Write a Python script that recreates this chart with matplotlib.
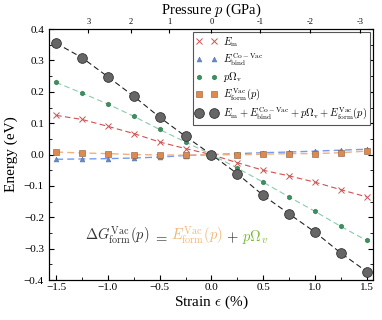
import matplotlib
matplotlib.use('Agg')
import matplotlib.pyplot as plt
from matplotlib.offsetbox import TextArea, HPacker, AnchoredOffsetbox
from matplotlib.ticker import MultipleLocator

plt.rcParams['font.family'] = ['Liberation Serif', 'DejaVu Serif']
plt.rcParams['mathtext.fontset'] = 'cm'

# strain (%)
strain = [-1.5, -1.25, -1.0, -0.75, -0.5, -0.25, 0.0, 0.25, 0.5, 0.75, 1.0, 1.25, 1.5]
e_m = [0.125, 0.112, 0.090, 0.067, 0.040, 0.019, 0.0, -0.026, -0.050, -0.068, -0.088, -0.112, -0.135]
e_bind = [-0.015, -0.014, -0.013, -0.011, -0.008, -0.003, 0.0, 0.003, 0.006, 0.008, 0.011, 0.014, 0.017]
p_omega = [0.230, 0.196, 0.161, 0.122, 0.080, 0.040, 0.0, -0.043, -0.088, -0.135, -0.181, -0.229, -0.274]
e_form = [0.008, 0.005, 0.003, 0.0, -0.001, -0.002, 0.0, -0.001, 0.001, 0.003, 0.003, 0.006, 0.011]
e_total = [0.355, 0.309, 0.248, 0.186, 0.119, 0.058, 0.0, -0.061, -0.130, -0.189, -0.247, -0.314, -0.373]

# top axis: pressure (GPa) and the strain where each tick sits
pressure_labels = ['3', '2', '1', '0', '-1', '-2', '-3']
pressure_strain = [-1.19, -0.78, -0.405, 0.0, 0.467, 0.95, 1.44]

fig = plt.figure(figsize=(3.82, 3.2), dpi=100)
ax = fig.add_axes([0.128, 0.125, 0.848, 0.784])

ax.plot(strain, e_m, ls=(0, (5, 3)), color='#d05050', lw=0.8)
ax.plot(strain, e_bind, ls=(0, (5, 3)), color='#7799ee', lw=1.0)
ax.plot(strain, p_omega, ls=(0, (5, 3)), color='#88ccaa', lw=0.8)
ax.plot(strain, e_form, ls=(0, (5, 3)), color='#f0b080', lw=1.0)
ax.plot(strain, e_total, ls=(0, (5, 3)), color='#222222', lw=0.8)

ax.plot(strain, e_m, ls='none', marker='x', ms=4, mew=0.7, color='#cc5555',
        label=r'$E_\mathrm{m}$')
ax.plot(strain, e_bind, ls='none', marker='^', ms=3.5, color='#6688cc', mec='#5577aa', mew=0.4,
        label=r'$E_\mathrm{bind}^\mathrm{Co-Vac}$')
ax.plot(strain, p_omega, ls='none', marker='h', ms=3.5, color='#3d8f5f', mec='#2e7a4e', mew=0.4,
        label=r'$p\Omega_\mathrm{v}$')
ax.plot(strain, e_form, ls='none', marker='s', ms=4.2, color='#dd8a50', mec='#8a5a3a', mew=0.4,
        label=r'$E_\mathrm{form}^\mathrm{Vac}(p)$')
ax.plot(strain, e_total, ls='none', marker='o', ms=7, color='#666666', mec='#333333', mew=0.6,
        label=r'$E_\mathrm{m}+E_\mathrm{bind}^\mathrm{Co-Vac}+p\Omega_\mathrm{v}+E_\mathrm{form}^\mathrm{Vac}(p)$')

ax.set_xlim(-1.57, 1.56)
ax.set_ylim(-0.4, 0.4)
ax.xaxis.set_major_locator(MultipleLocator(0.5))
ax.xaxis.set_minor_locator(MultipleLocator(0.25))
ax.yaxis.set_major_locator(MultipleLocator(0.1))
ax.yaxis.set_minor_locator(MultipleLocator(0.05))
ax.tick_params(which='both', direction='in', right=True, labelsize=8)
ax.tick_params(which='major', length=3.5)
ax.tick_params(which='minor', length=2)
ax.tick_params(axis='x', pad=2)
ax.set_xlabel(r'Strain $\epsilon$ (%)', fontsize=11, labelpad=1)
ax.set_ylabel('Energy (eV)', fontsize=11)

leg = ax.legend(loc='upper right', numpoints=2, fontsize=7.5, fancybox=False,
                edgecolor='#555555', framealpha=1, borderaxespad=0.25,
                handletextpad=0.6, labelspacing=0.25, borderpad=0.3)
leg.get_frame().set_linewidth(0.8)

ax2 = ax.twiny()
ax2.set_xlim(ax.get_xlim())
ax2.set_xticks(pressure_strain)
ax2.set_xticklabels(pressure_labels)
ax2.tick_params(direction='in', length=3, labelsize=6, pad=2)
ax2.set_xlabel(r'Pressure $p$ (GPa)', fontsize=10.5, labelpad=3)

# coloured equation, pieces packed on a common baseline
parts = [
    (r'$\Delta G_\mathrm{form}^\mathrm{Vac}(p)$', '#333333'),
    (r'$=$', '#333333'),
    (r'$E_\mathrm{form}^\mathrm{Vac}(p)$', '#f0b878'),
    (r'$+$', '#333333'),
    (r'$p\Omega_v$', '#77bb33'),
]
boxes = [TextArea(s, textprops=dict(color=c, fontsize=10.5)) for s, c in parts]
row = HPacker(children=boxes, align='baseline', pad=0, sep=2.5)
anch = AnchoredOffsetbox(loc='center left', child=row, frameon=False,
                         bbox_to_anchor=(0.11, 0.175), bbox_transform=ax.transAxes,
                         borderpad=0, pad=0)
ax.add_artist(anch)

fig.savefig('out.png', dpi=100)
